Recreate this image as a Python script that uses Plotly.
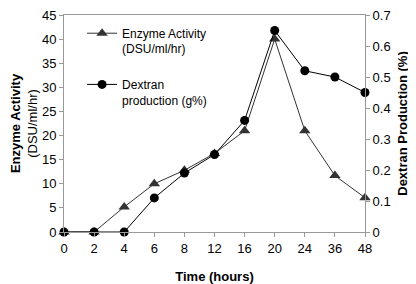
import plotly.graph_objects as go

hours = ["0", "2", "4", "6", "8", "12", "16", "20", "24", "36", "48"]
enzyme_activity = [0, 0, 5.2, 10, 12.8, 16.3, 21, 40, 21, 11.7, 7.1]
dextran = [0, 0, 0, 0.11, 0.19, 0.25, 0.36, 0.65, 0.52, 0.50, 0.45]

FONT = "Liberation Sans, Arial, sans-serif"

fig = go.Figure()
fig.add_trace(go.Scatter(
    x=hours, y=enzyme_activity, name="Enzyme Activity<br>(DSU/ml/hr)",
    mode="lines+markers", line=dict(color="#333333", width=1),
    marker=dict(symbol="triangle-up", size=10, color="#333333"),
    cliponaxis=False, yaxis="y", legendgroup="enz"))
fig.add_trace(go.Scatter(
    x=hours, y=dextran, name="Dextran<br>production (g%)",
    mode="lines+markers", line=dict(color="#000000", width=1),
    marker=dict(symbol="circle", size=9, color="#000000"),
    cliponaxis=False, yaxis="y2", legendgroup="dex"))

# page has an 8px body margin, so the figure is sized/positioned to compensate
fig.update_layout(
    width=408, height=276,
    margin=dict(l=56, r=51, t=7, b=52, autoexpand=False),
    paper_bgcolor="white", plot_bgcolor="white",
    font=dict(family=FONT, size=12, color="#000000"),
    showlegend=True,
    legend=dict(x=0.06, y=0.982, xanchor="left", yanchor="top",
                bgcolor="rgba(0,0,0,0)", font=dict(size=12),
                valign="top", tracegroupgap=17, itemwidth=30),
    xaxis=dict(type="category", range=[0, 10], showgrid=False, automargin=False,
               showline=True, linecolor="#999999", linewidth=1, mirror=True,
               ticks="outside", ticklen=4, tickcolor="#999999",
               tickfont=dict(size=13),
               title=dict(text="<b>Time (hours)</b>", font=dict(size=13), standoff=17)),
    yaxis=dict(range=[0, 45], dtick=5, showgrid=False, zeroline=False, automargin=False,
               showline=True, linecolor="#999999", linewidth=1,
               ticks="outside", ticklen=4, tickcolor="#999999",
               tickfont=dict(size=13), ticklabeloverflow="allow",
               title=dict(text="<b>Enzyme Activity</b><br>(DSU/ml/hr)", font=dict(size=13), standoff=10)),
    yaxis2=dict(range=[0, 0.7], dtick=0.1, overlaying="y", side="right",
                showgrid=False, zeroline=False, automargin=False,
                showline=True, linecolor="#999999", linewidth=1,
                ticks="outside", ticklen=4, tickcolor="#999999",
                tickfont=dict(size=13), tickformat=".1~f", ticklabeloverflow="allow",
                title=dict(text="<b>Dextran Production (%)</b>", font=dict(size=13), standoff=8)),
)

fig.write_html("out.html")
